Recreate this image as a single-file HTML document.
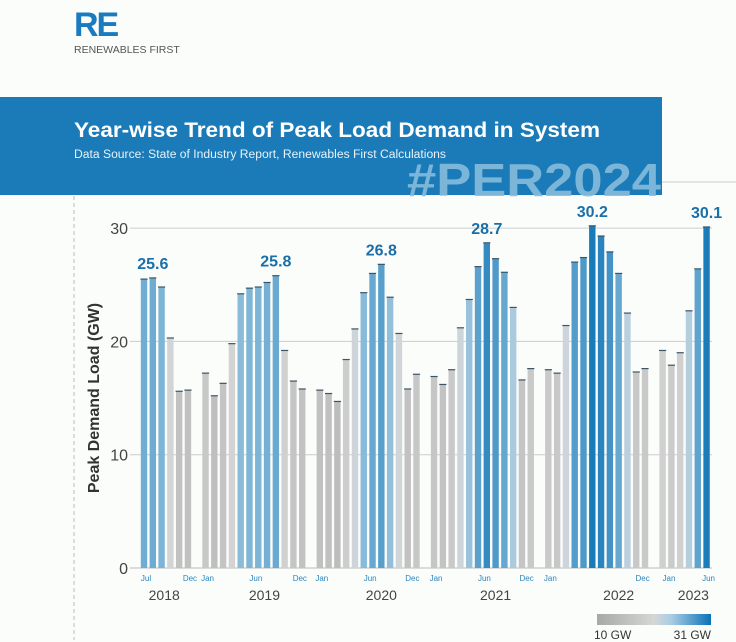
<!DOCTYPE html>
<html><head><meta charset="utf-8"><style>
html,body{margin:0;padding:0;background:#fbfdfb;width:736px;height:642px;overflow:hidden;font-family:"Liberation Sans",sans-serif}
</style></head><body>
<svg width="736" height="642" viewBox="0 0 736 642" xmlns="http://www.w3.org/2000/svg">
<g>
<text x="74" y="36" font-size="34" font-weight="bold" fill="#1b7bbf" font-family="Liberation Sans,sans-serif" letter-spacing="-2">RE</text>
<text x="74" y="53" font-size="10.5" fill="#555">RENEWABLES FIRST</text>
</g>
<rect x="0" y="97" width="662" height="98" fill="#1a7bb8"/>
<text x="74" y="137" font-size="21" font-weight="bold" fill="#fff" textLength="526" lengthAdjust="spacingAndGlyphs">Year-wise Trend of Peak Load Demand in System</text>
<text x="74" y="158" font-size="11.5" fill="#e8f2f8" textLength="372" lengthAdjust="spacingAndGlyphs">Data Source: State of Industry Report, Renewables First Calculations</text>
<text x="407" y="196" font-size="46" font-weight="bold" fill="#86bcdb" opacity="0.9" textLength="254" lengthAdjust="spacingAndGlyphs">#PER2024</text>
<line x1="662" y1="182" x2="736" y2="182" stroke="#ccc" stroke-width="1"/>
<line x1="74" y1="196" x2="74" y2="640" stroke="#bbb" stroke-width="1" stroke-dasharray="4,3"/>
<text transform="translate(99,398) rotate(-90)" text-anchor="middle" font-size="16" font-weight="bold" fill="#333">Peak Demand Load (GW)</text>
<g id="grid"></g><g id="bars"></g><g id="labels"></g>
<defs><linearGradient id="lg" x1="0" x2="1"><stop offset="0" stop-color="#a8a8a8"/><stop offset="0.5" stop-color="#d6d6d6"/><stop offset="0.65" stop-color="#a9cde3"/><stop offset="1" stop-color="#0b72b5"/></linearGradient></defs>
<rect x="597" y="614" width="114" height="11" fill="url(#lg)"/>
<text x="594" y="639" font-size="12" fill="#333">10 GW</text>
<text x="711" y="639" font-size="12" fill="#333" text-anchor="end">31 GW</text>
</svg>
<script>
const years=[2018,2019,2020,2021,2022,2023];
const values=[25.5,25.6,24.8,20.3,15.6,15.7,
17.2,15.2,16.3,19.8,24.2,24.7,24.8,25.2,25.8,19.2,16.5,15.8,
15.7,15.4,14.7,18.4,21.1,24.3,26.0,26.8,23.9,20.7,15.8,17.1,
16.9,16.2,17.5,21.2,23.7,26.6,28.7,27.3,26.1,23.0,16.6,17.6,
17.5,17.2,21.4,27.0,27.4,30.2,29.3,27.9,26.0,22.5,17.3,17.6,
19.2,17.9,19.0,22.7,26.4,30.1];
const yTicks=[0,10,20,30];
const peakLabels=[[1,"25.6"],[14,"25.8"],[25,"26.8"],[36,"28.7"],[47,"30.2"],[59,"30.1"]];
const monthLabels=[[0,"Jul"],[5,"Dec"],[6,"Jan"],[11.5,"Jun"],[16.5,"Dec"],[18,"Jan"],[23.5,"Jun"],[28.3,"Dec"],[30,"Jan"],[35.5,"Jun"],[40.3,"Dec"],[42,"Jan"],[52.5,"Dec"],[54.5,"Jan"],[59,"Jun"]];
const yearLabels=[[2.3,"2018"],[12.7,"2019"],[25,"2020"],[37,"2021"],[50,"2022"],[57.5,"2023"]];
const NS="http://www.w3.org/2000/svg";
const y0=568,pxPer=11.33;
function Y(v){return y0-v*pxPer;}
function slot(i){return i<6?i:i+Math.floor((i-6)/12)+1;}
function X(i){return 144+slot(i)*8.79;}
function mix(a,b,t){return a.map((c,k)=>Math.round(c+(b[k]-c)*t));}
function color(v){const st=[[10,[168,168,168]],[20,[212,212,212]],[22,[200,214,224]],[24.5,[130,184,216]],[31,[11,114,181]]];
for(let k=1;k<st.length;k++){if(v<=st[k][0]){const t=Math.max(0,(v-st[k-1][0])/(st[k][0]-st[k-1][0]));return "rgb("+mix(st[k-1][1],st[k][1],t).join(",")+")";}}return "rgb(11,114,181)";}
function mk(tag,attrs,parent){const e=document.createElementNS(NS,tag);for(const k in attrs)e.setAttribute(k,attrs[k]);parent.appendChild(e);return e;}
const grid=document.getElementById("grid"),bars=document.getElementById("bars"),labels=document.getElementById("labels");
yTicks.forEach(t=>{
 const l=mk("line",{x1:130,x2:712,y1:Y(t),y2:Y(t),stroke:t===0?"#bbb":"#ccc","stroke-width":1},grid);
 
 
 const tx=mk("text",{x:128,y:Y(t)+6,"font-size":16,fill:"#444","text-anchor":"end"},grid);
 tx.textContent=t;
 
 
});
values.forEach((v,i)=>{
 const x=X(i);
 const r=mk("rect",{x:x-3.2,y:Y(v),width:6.4,height:v*pxPer,fill:color(v)},bars);
 
 
 const c=mk("line",{x1:x-3.6,x2:x+3.6,y1:Y(v),y2:Y(v),stroke:"#3d5566","stroke-width":1.2},bars);
 
 
});
peakLabels.forEach(([i,s])=>{
 const t=mk("text",{x:X(i),y:Y(values[i])-9,"font-size":16,"font-weight":"bold",fill:"#1a6fa8","text-anchor":"middle"},labels);
 t.textContent=s;
 
 
});
monthLabels.forEach(([i,s])=>{
 const x=144+(i<6?i:i+Math.floor((i-6)/12)+1)*8.79;
 const t=mk("text",{x:x+2,y:581,"font-size":8,fill:"#2a86c0","text-anchor":"middle"},labels);
 t.textContent=s;
 
 
});
yearLabels.forEach(([i,s])=>{
 const x=144+(i<6?i:i+Math.floor((i-6)/12)+1)*8.79;
 const t=mk("text",{x:x,y:600,"font-size":14,fill:"#444","text-anchor":"middle"},labels);
 t.textContent=s;
 
 
});
</script>
</body></html>
